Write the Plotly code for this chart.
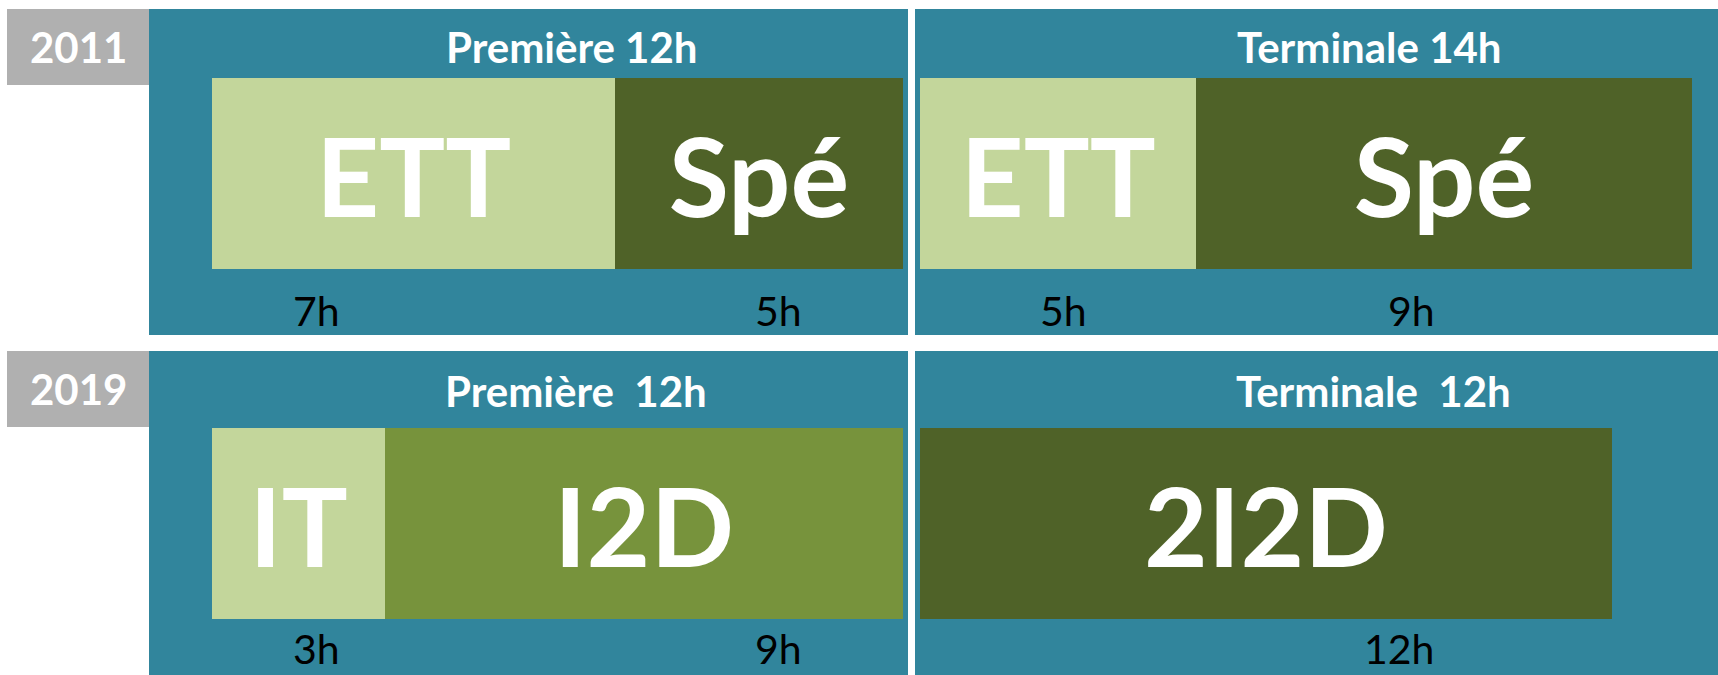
"""Comparaison des horaires STI2D 2011 / 2019 (Première et Terminale), barres empilées en heures."""

import plotly.graph_objects as go

# --- données ---
annees = ["2011", "2019"]
titres = ["Première 12h", "Terminale\u00a014h", "Première\u00a0 12h", "Terminale\u00a0 12h"]
matieres = [["ETT", "Spé"], ["ETT", "Spé"], ["IT", "I2D"], ["2I2D"]]
heures = [[7, 5], [5, 9], [3, 9], [12]]

# --- style ---
W, H = 1718, 675
BLEU = "#31859C"
GRIS = "#B0B0B0"
COULEURS = {"ETT": "#C3D69B", "IT": "#C3D69B", "Spé": "#4F6228", "2I2D": "#4F6228", "I2D": "#77933C"}
FONT = "Lato"

# cadres bleus (px) : x0, x1, y0, y1
cadres = [(149, 908, 9, 335), (915, 1718, 9, 335), (149, 908, 351, 675), (915, 1718, 351, 675)]
# zone des barres (px)
zones = [(212, 903, 78, 269), (920, 1692, 78, 269), (212, 903, 428, 619), (920, 1612, 428, 619)]
titre_y = [47, 47, 391, 391]
titre_x = [572, 1369, 576, 1373]
etiq_x = [[316, 778], [1063, 1411], [316, 778], [1399]]
etiq_y = [310, 310, 648, 648]
annee_box = [(7, 149, 9, 85), (7, 149, 351, 427)]


def px(x):
    return x / W


def py(y):
    return 1 - y / H


fig = go.Figure()
layout = {}

for i, (noms, hrs) in enumerate(zip(matieres, heures)):
    k = "" if i == 0 else str(i + 1)
    for nom, h in zip(noms, hrs):
        fig.add_trace(go.Bar(
            x=[h], y=[0], orientation="h", width=1,
            xaxis="x" + k, yaxis="y" + k,
            marker=dict(color=COULEURS[nom], line=dict(width=0)),
            text=[nom], textposition="inside", insidetextanchor="middle",
            constraintext="none",
            textfont=dict(family=FONT, size=110, color="white", weight="bold"),
            showlegend=False, hoverinfo="skip",
        ))
    x0, x1, y0, y1 = zones[i]
    axe = dict(visible=False, showgrid=False, zeroline=False, fixedrange=True)
    layout["xaxis" + k] = dict(axe, domain=[px(x0), px(x1)], range=[0, sum(hrs)], anchor="y" + k)
    layout["yaxis" + k] = dict(axe, domain=[py(y1), py(y0)], range=[-0.5, 0.5], anchor="x" + k)

shapes = []
for x0, x1, y0, y1 in cadres:
    shapes.append(dict(type="rect", xref="paper", yref="paper", x0=px(x0), x1=px(x1),
                       y0=py(y1), y1=py(y0), fillcolor=BLEU, line=dict(width=0), layer="below"))
for x0, x1, y0, y1 in annee_box:
    shapes.append(dict(type="rect", xref="paper", yref="paper", x0=px(x0), x1=px(x1),
                       y0=py(y1), y1=py(y0), fillcolor=GRIS, line=dict(width=0), layer="below"))

annotations = []
for (x0, x1, y0, y1), a in zip(annee_box, annees):
    annotations.append(dict(x=px((x0 + x1) / 2), y=py((y0 + y1) / 2), xref="paper", yref="paper",
                            text=a, showarrow=False, xanchor="center", yanchor="middle",
                            font=dict(family=FONT, size=42, color="white", weight="bold")))
for t, x, y in zip(titres, titre_x, titre_y):
    annotations.append(dict(x=px(x), y=py(y), xref="paper", yref="paper", text=t,
                            showarrow=False, xanchor="center", yanchor="middle",
                            font=dict(family=FONT, size=42, color="white", weight="bold")))
for hrs, xs, y in zip(heures, etiq_x, etiq_y):
    for h, x in zip(hrs, xs):
        annotations.append(dict(x=px(x), y=py(y), xref="paper", yref="paper", text=f"{h}h",
                                showarrow=False, xanchor="center", yanchor="middle",
                                font=dict(family=FONT, size=41, color="black")))

fig.update_layout(
    width=W, height=H,
    margin=dict(l=0, r=0, t=0, b=0),
    paper_bgcolor="white", plot_bgcolor="rgba(0,0,0,0)",
    barmode="stack", bargap=0,
    shapes=shapes, annotations=annotations,
    **layout,
)

# la page HTML a une marge de 8px par défaut : on la supprime
fig.write_html("out.html", config={"displayModeBar": False},
               post_script="document.body.style.margin='0';document.body.style.overflow='hidden';")
